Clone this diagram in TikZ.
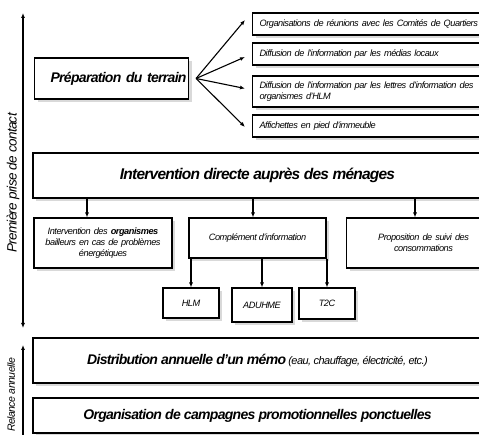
\documentclass[tikz,border=0pt]{standalone}
\usepackage{fontspec}
\setmainfont{Liberation Sans}[LetterSpace=-5]
\usetikzlibrary{arrows.meta,shadows}

\begin{document}
\begin{tikzpicture}[x=1pt,y=1pt,
  box/.style={draw,line width=1.1pt,fill=white,inner sep=2pt,
    drop shadow={shadow xshift=3pt,shadow yshift=-3pt,fill=black!15,opacity=1}},
  arr/.style={draw,line width=1.1pt,-{Latex[length=5pt,width=4pt]}},
  big/.style={font=\fontsize{15.5}{17}\selectfont\bfseries\itshape},
  small/.style={font=\fontsize{9.2}{11}\selectfont\itshape},
  list/.style={box,small,anchor=west,text width=230,align=left,inner xsep=7pt}]
\useasboundingbox (0,0) rectangle (479,435);

% axe de gauche
\coordinate (c1) at (23,422);
\coordinate (c2) at (23,107);
\coordinate (c3) at (23,90);
\coordinate (c4) at (23,-6);
\path[draw,line width=1.1pt,{Latex[length=5pt,width=4pt]}-{Latex[length=5pt,width=4pt]}] (c1) -- (c2);
\path[draw,line width=1.1pt,{Latex[length=5pt,width=4pt]}-{Latex[length=5pt,width=4pt]}] (c3) -- (c4);
\node[rotate=90,font=\fontsize{13.5}{15}\selectfont\itshape] (lab1) at (13,252) {Première prise de contact};
\node[rotate=90,font=\fontsize{10.5}{12}\selectfont\itshape] (lab2) at (11,40) {Relance annuelle};

% preparation
\node[box,font=\fontsize{14}{16}\selectfont\bfseries\itshape,text width=150,align=right,minimum height=41] (prep) at (111.5,356.5) {Préparation du terrain};
\node[list,minimum height=22] (org1) at (252,411) {Organisations de réunions avec les Comités de Quartiers};
\node[list,minimum height=22] (org2) at (252,381) {Diffusion de l'information par les médias locaux};
\node[list,minimum height=31] (org3) at (252,343.5) {Diffusion de l'information par les lettres d'information des\\organismes d'HLM};
\node[list,minimum height=22] (org4) at (252,309) {Affichettes en pied d'immeuble};

\coordinate (fan) at ([xshift=7]prep.east);
\path[arr] (fan) -- ([xshift=-7,yshift=4]org1.west);
\path[arr] (fan) -- ([xshift=-7,yshift=-3]org2.west);
\path[arr] (fan) -- ([xshift=-7,yshift=3]org3.west);
\path[arr] (fan) -- ([xshift=-7,yshift=-1]org4.west);

% intervention
\node[box,big,minimum width=449,minimum height=45] (direct) at (257.5,259.5) {Intervention directe auprès des ménages};
\node[box,small,text width=134,align=center,minimum height=50] (sub1) at (103,192) {Intervention des \textbf{organismes}\\bailleurs en cas de problèmes\\énergétiques};
\node[box,small,minimum width=137,minimum height=40] (sub2) at (257.5,197) {Complément d'information};
\node[box,small,text width=150,align=center,minimum height=50] (sub3) at (423.5,192) {Proposition de suivi des\\consommations};

\coordinate (s1) at ([xshift=-16]sub1.north);
\coordinate (s2) at ([xshift=-4.5]sub2.north);
\coordinate (s3) at ([xshift=-8.5]sub3.north);
\path[arr] (direct.south -| s1) -- (s1);
\path[arr] (direct.south -| s2) -- (s2);
\path[arr] (direct.south -| s3) -- (s3);

\node[box,small,minimum width=56,minimum height=30] (hlm) at (191,132) {HLM};
\node[box,small,minimum width=60,minimum height=34] (aduhme) at (262,130) {ADUHME};
\node[box,small,minimum width=56,minimum height=31] (t2c) at (327,131.5) {T2C};
\path[arr] (sub2.south -| hlm.north) -- (hlm.north);
\path[arr] (sub2.south -| aduhme.north) -- (aduhme.north);
\path[arr] (sub2.south -| t2c.north) -- (t2c.north);

% relance
\node[box,minimum width=449,minimum height=45] (distrib) at (257.5,74.5) {{\fontsize{14}{16}\selectfont\bfseries\itshape Distribution annuelle d'un mémo} {\fontsize{11}{13}\selectfont\itshape (eau, chauffage, électricité, etc.)}};
\node[box,font=\fontsize{14}{16}\selectfont\bfseries\itshape,minimum width=449,minimum height=35] (orga) at (257.5,19.5) {Organisation de campagnes promotionnelles ponctuelles};
\end{tikzpicture}
\end{document}
